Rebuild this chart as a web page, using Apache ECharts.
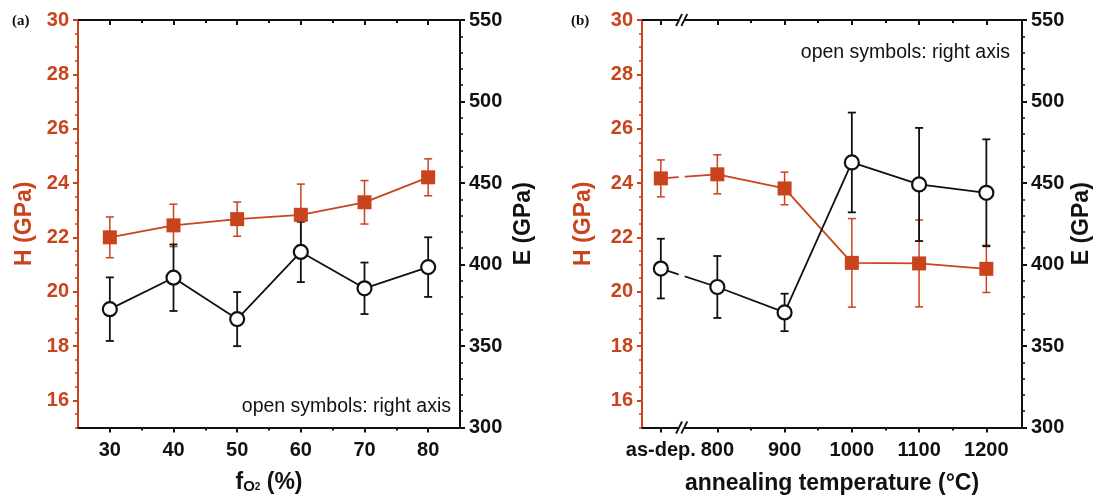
<!DOCTYPE html>
<html>
<head>
<meta charset="utf-8">
<script src="https://cdn.jsdelivr.net/npm/echarts@6/dist/echarts.min.js"></script>
<style>
html,body{margin:0;padding:0;background:#fff;}
#c{width:1104px;height:503px;}
</style>
</head>
<body>
<div id="c"></div>
<script>
// ---------- data ----------
// panel (a): oxygen fraction
const xA = [30, 40, 50, 60, 70, 80];
const HA = [22.0, 22.44, 22.67, 22.83, 23.29, 24.21];
const HAerr = [0.75, 0.78, 0.63, 1.13, 0.8, 0.68];
const EA = [372.6, 391.9, 366.5, 407.7, 385.4, 398.4];
const EAerr = [19.5, 20.4, 16.6, 18.5, 15.8, 18.3];
// panel (b): annealing temperature ("as-dep." placed left of the axis break)
const xBLabels = ['as-dep.', '800', '900', '1000', '1100', '1200'];
const xB = [716, 800, 900, 1000, 1100, 1200];
const HB = [24.17, 24.32, 23.80, 21.06, 21.04, 20.84];
const HBerr = [0.68, 0.72, 0.60, 1.63, 1.60, 0.87];
const EB = [397.5, 386.2, 370.6, 462.6, 449.1, 444.0];
const EBerr = [18.3, 19.0, 11.5, 30.6, 34.7, 32.8];
// tick values
const xAMajor = [30, 40, 50, 60, 70, 80];
const xAMinor = [35, 45, 55, 65, 75];
const xBMinor = [850, 950, 1050, 1150];
const hMajor = [16, 18, 20, 22, 24, 26, 28, 30];
const hMinor = [15, 15.5, 16.5, 17, 17.5, 18.5, 19, 19.5, 20.5, 21, 21.5, 22.5, 23, 23.5, 24.5, 25, 25.5, 26.5, 27, 27.5, 28.5, 29, 29.5];

// ---------- style ----------
const OR = '#C9431C';
const BK = '#111111';
const FF = '"Liberation Sans", Arial, Helvetica, sans-serif';
const gridA = {left: 78, top: 20, width: 382, height: 407.5};
const gridB = {left: 642, top: 20, width: 380, height: 407.5};
const breakVal = 747;

const chart = echarts.init(document.getElementById('c'), null, {renderer: 'canvas'});

function xAxisPair(gi, min, max, major, minor, labelFmt, name, nameRich) {
  const base = {gridIndex: gi, type: 'value', min: min, max: max, splitLine: {show: false}};
  return [
    Object.assign({}, base, {
      position: 'bottom',
      axisLine: {show: true, lineStyle: {color: BK, width: 2}},
      axisTick: {show: true, inside: false, length: 5, customValues: major, lineStyle: {color: BK, width: 2}},
      axisLabel: {show: true, customValues: major, margin: 13, color: BK, fontFamily: FF, fontWeight: 'bold', fontSize: 20, formatter: labelFmt},
      name: name, nameLocation: 'middle', nameGap: 45,
      nameTextStyle: nameRich
    }),
    Object.assign({}, base, {
      position: 'bottom',
      axisLine: {show: false},
      axisTick: {show: true, inside: false, length: 3, customValues: minor, lineStyle: {color: BK, width: 2}},
      axisLabel: {show: false}
    }),
    Object.assign({}, base, {
      position: 'top',
      axisLine: {show: true, lineStyle: {color: BK, width: 2}},
      axisTick: {show: true, inside: true, length: 5, customValues: major, lineStyle: {color: BK, width: 2}},
      axisLabel: {show: false}
    }),
    Object.assign({}, base, {
      position: 'top',
      axisLine: {show: false},
      axisTick: {show: true, inside: true, length: 3, customValues: minor, lineStyle: {color: BK, width: 2}},
      axisLabel: {show: false}
    })
  ];
}

function yAxes(gi, gapL, gapR) {
  return [
    {
      gridIndex: gi, type: 'value', position: 'left', min: 15, max: 30,
      splitLine: {show: false},
      axisLine: {show: true, lineStyle: {color: OR, width: 2}},
      axisTick: {show: true, inside: false, length: 5, customValues: hMajor, lineStyle: {color: OR, width: 2}},
      axisLabel: {customValues: hMajor, margin: 9, color: OR, fontFamily: FF, fontWeight: 'bold', fontSize: 20},
      name: 'H (GPa)', nameLocation: 'middle', nameRotate: 90, nameGap: gapL,
      nameTextStyle: {color: OR, fontFamily: FF, fontWeight: 'bold', fontSize: 23}
    },
    {
      gridIndex: gi, type: 'value', position: 'left', min: 15, max: 30,
      splitLine: {show: false},
      axisLine: {show: false},
      axisTick: {show: true, inside: false, length: 3, customValues: hMinor, lineStyle: {color: OR, width: 1.5}},
      axisLabel: {show: false}
    },
    {
      gridIndex: gi, type: 'value', position: 'right', min: 300, max: 550, interval: 50,
      splitLine: {show: false},
      axisLine: {show: true, lineStyle: {color: BK, width: 2}},
      axisTick: {show: true, inside: false, length: 5, lineStyle: {color: BK, width: 2}},
      minorTick: {show: true, splitNumber: 5, length: 3, lineStyle: {color: BK, width: 1.5}},
      axisLabel: {margin: 9, color: BK, fontFamily: FF, fontWeight: 'bold', fontSize: 20},
      name: 'E (GPa)', nameLocation: 'middle', nameRotate: 90, nameGap: gapR,
      nameTextStyle: {color: BK, fontFamily: FF, fontWeight: 'bold', fontSize: 23}
    }
  ];
}

function errSeries(xi, yi, xs, v, e, color, lw) {
  return {
    type: 'custom', xAxisIndex: xi, yAxisIndex: yi, z: 1, silent: true,
    data: xs.map((x, i) => [x, v[i] - e[i], v[i] + e[i]]),
    encode: {x: 0, y: [1, 2]},
    renderItem: function (params, api) {
      const x = api.value(0), lo = api.value(1), hi = api.value(2);
      const a = api.coord([x, hi]), b = api.coord([x, lo]);
      const w = 4;
      const st = {stroke: color, lineWidth: lw};
      return {type: 'group', children: [
        {type: 'line', shape: {x1: a[0], y1: a[1], x2: b[0], y2: b[1]}, style: st},
        {type: 'line', shape: {x1: a[0] - w, y1: a[1], x2: a[0] + w, y2: a[1]}, style: st},
        {type: 'line', shape: {x1: b[0] - w, y1: b[1], x2: b[0] + w, y2: b[1]}, style: st}
      ]};
    }
  };
}

function hLine(xi, yi, xs, v) {
  return {
    type: 'line', xAxisIndex: xi, yAxisIndex: yi, z: 2,
    data: xs.map((x, i) => [x, v[i]]),
    symbol: 'rect', symbolSize: 14,
    itemStyle: {color: OR, borderWidth: 0},
    lineStyle: {color: OR, width: 1.8},
    emphasis: {disabled: true}, animation: false
  };
}
function eLine(xi, yi, xs, v) {
  return {
    type: 'line', xAxisIndex: xi, yAxisIndex: yi, z: 3,
    data: xs.map((x, i) => [x, v[i]]),
    symbol: 'circle', symbolSize: 14,
    itemStyle: {color: '#fff', borderColor: BK, borderWidth: 2.2},
    lineStyle: {color: BK, width: 1.8},
    emphasis: {disabled: true}, animation: false
  };
}

const fo2Rich = {
  color: BK,
  rich: {
    m: {fontFamily: FF, fontWeight: 'bold', fontSize: 23, color: BK, padding: [0, 0, 9, 0]},
    o: {fontFamily: FF, fontWeight: 'bold', fontSize: 15, color: BK, padding: [0, 0, 2, 0]},
    t: {fontFamily: FF, fontWeight: 'bold', fontSize: 10, color: BK}
  }
};
const annRich = {color: BK, fontFamily: FF, fontWeight: 'bold', fontSize: 23};

const xAxesA = xAxisPair(0, 25, 85, xAMajor, xAMinor, null, '{m|f}{o|O}{t|2}{m| (%)}', fo2Rich);
const xAxesB = xAxisPair(1, 688, 1253, xB, xBMinor,
  function (val) { const i = xB.indexOf(val); return i >= 0 ? xBLabels[i] : ''; },
  'annealing temperature (°C)', annRich);
xAxesA[0].nameGap = 44;

const option = {
  animation: false,
  backgroundColor: '#ffffff',
  grid: [
    Object.assign({containLabel: false}, gridA),
    Object.assign({containLabel: false}, gridB)
  ],
  xAxis: xAxesA.concat(xAxesB),
  yAxis: yAxes(0, 42, 52).concat(yAxes(1, 47, 48)),
  series: [
    errSeries(0, 0, xA, HA, HAerr, OR, 1.5),
    errSeries(0, 2, xA, EA, EAerr, BK, 1.8),
    hLine(0, 0, xA, HA),
    eLine(0, 2, xA, EA),
    errSeries(4, 3, xB, HB, HBerr, OR, 1.5),
    errSeries(4, 5, xB, EB, EBerr, BK, 1.8),
    hLine(4, 3, xB, HB),
    eLine(4, 5, xB, EB)
  ],
  graphic: [
    {type: 'text', left: 12, top: 14, style: {text: '(a)', fontFamily: '"Liberation Serif", "Times New Roman", serif', fontWeight: 'bold', fontSize: 15, fill: BK}},
    {type: 'text', left: 571, top: 14, style: {text: '(b)', fontFamily: '"Liberation Serif", "Times New Roman", serif', fontWeight: 'bold', fontSize: 15, fill: BK}},
    {type: 'text', x: 451, y: 407, style: {text: 'open symbols: right axis', fontFamily: FF, fontSize: 19.5, fill: BK, align: 'right', verticalAlign: 'middle'}},
    {type: 'text', x: 1010, y: 53, style: {text: 'open symbols: right axis', fontFamily: FF, fontSize: 19.5, fill: BK, align: 'right', verticalAlign: 'middle'}}
  ]
};
chart.setOption(option);

// axis break marks on panel (b)
const bx = chart.convertToPixel({xAxisIndex: 4}, breakVal);
const yTop = gridB.top, yBot = gridB.top + gridB.height;
const brk = [
  {type: 'rect', z: 100, shape: {x: bx - 3, y: yTop - 2, width: 6, height: yBot - yTop + 4}, style: {fill: '#fff'}, silent: true}
];
[yTop, yBot].forEach(function (yy) {
  [-2.6, 2.6].forEach(function (d) {
    brk.push({type: 'line', z: 101, silent: true,
      shape: {x1: bx + d - 3, y1: yy + 6, x2: bx + d + 3, y2: yy - 6},
      style: {stroke: BK, lineWidth: 1.8}});
  });
});
chart.setOption({graphic: option.graphic.concat(brk)});
</script>
</body>
</html>
